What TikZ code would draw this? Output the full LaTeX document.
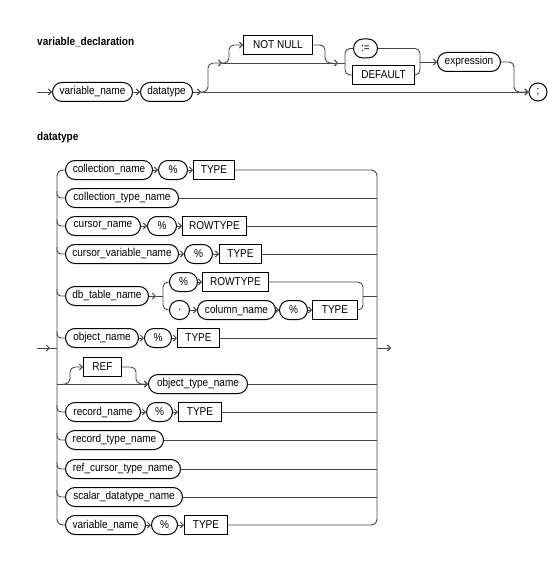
\documentclass[tikz,border=0pt]{standalone}
\usepackage{fontspec}
\setmainfont{Liberation Sans}[FakeStretch=0.88]
\usetikzlibrary{arrows.meta}
\newcommand\fsz{\fontsize{11.4}{13}\selectfont}
\begin{document}
\begin{tikzpicture}[x=1pt,y=-1pt,
  ln/.style={line width=0.9pt, draw=black!72},
  arr/.style={ln, -{Straight Barb[length=3pt,width=6pt,line width=0.9pt]}},
  nt/.style={draw=black, line width=1pt, rectangle, rounded corners=9.5pt, minimum height=19pt, inner sep=0pt, font=\fsz, anchor=west},
  kw/.style={draw=black, line width=1pt, rectangle, minimum height=19pt, inner sep=0pt, font=\fsz, anchor=west},
  ttl/.style={font=\fsz\bfseries, anchor=west, inner sep=0pt},
]
\useasboundingbox (0,0) rectangle (547,567);

% ---------------- variable_declaration ----------------
\node[ttl] (t1) at (37,42) {variable\_declaration};
\node[nt, minimum width=80pt] (vname) at (52,92) {variable\_name};
\node[nt, minimum width=52pt] (dtype) at (140,92) {datatype};
\node[kw, minimum width=69pt] (notnull) at (243,45) {NOT NULL};
\node[nt, minimum width=24pt] (assign) at (353,48.5) {:=};
\node[kw, minimum width=62pt] (default) at (352,75) {DEFAULT};
\node[nt, minimum width=63pt] (expr) at (437,62) {expression};
\node[draw=black, line width=1pt, circle, minimum size=18pt, inner sep=0pt, font=\fsz] (semi) at (538,92) {;};

\coordinate (start1) at (37,92);
\coordinate (a1) at (201,92);
\coordinate (a2) at (222,63);
\coordinate (a3) at (338,63);
\coordinate (bl) at (345,63);
\coordinate (br) at (420,62);

\draw[arr] (start1) -- (vname.west);
\draw[arr] (vname.east) -- (dtype.west);
\draw[arr] (dtype.east) -- (a1);
\draw[arr] (a1) -- (semi.west);
\draw[arr, rounded corners=5pt] (a1) -- (208,92) -- (208,63) -- (a2);
\draw[arr, rounded corners=5pt] (a2) -- (229,63) -- (229,45) -- (notnull.west);
\draw[arr] (a2) -- (a3);
\draw[ln] (a3) -- (bl);
\draw[ln, rounded corners=5pt] (notnull.east) -- (325,45) -- (325,63) -- (333,63);
\draw[ln, rounded corners=5pt] (assign.west) -- (345,48.5) -- (345,75) -- (default.west);
\draw[ln, rounded corners=5pt] (assign.east) -- (420,48.5) -- (420,75) -- (default.east);
\draw[arr] (br) -- (expr.west);
\draw[arr, rounded corners=5pt] (expr.east) -- (514,62) -- (514,92) -- (semi.west);

% ---------------- datatype ----------------
\node[ttl] (t2) at (37,138) {datatype};

% row 1
\node[nt, minimum width=87pt] (cname) at (65,170) {collection\_name};
\node[nt, minimum width=29pt] (pct1) at (158,170) {\%};
\node[kw, minimum width=41pt] (type1) at (193,170) {TYPE};
% row 2
\node[nt, minimum width=113pt] (ctname) at (65,198) {collection\_type\_name};
% row 3
\node[nt, minimum width=75pt] (cur) at (65,226) {cursor\_name};
\node[nt, minimum width=29pt] (pct3) at (147,226) {\%};
\node[kw, minimum width=64pt] (rowtype3) at (182,226) {ROWTYPE};
% row 4
\node[nt, minimum width=113pt] (cvn) at (65,254) {cursor\_variable\_name};
\node[nt, minimum width=28pt] (pct4) at (184,254) {\%};
\node[kw, minimum width=42pt] (type4) at (219,254) {TYPE};
% row 5
\node[nt, minimum width=83pt] (db) at (65,296) {db\_table\_name};
\node[nt, minimum width=28pt] (pct5a) at (169,282) {\%};
\node[kw, minimum width=66pt] (rowtype5) at (202,282) {ROWTYPE};
\node[nt, minimum width=20pt] (dot) at (169,310) {.};
\node[nt, minimum width=78pt] (colname) at (197,310) {column\_name};
\node[nt, minimum width=28pt] (pct5b) at (279,310) {\%};
\node[kw, minimum width=45pt] (type5) at (312,310) {TYPE};
% row 6
\node[nt, minimum width=73pt] (oname) at (65,338) {object\_name};
\node[nt, minimum width=27pt] (pct6) at (144,338) {\%};
\node[kw, minimum width=42pt] (type6) at (177,338) {TYPE};
% row 7
\node[kw, minimum width=38pt] (ref) at (83,367) {REF};
\node[nt, minimum width=99pt] (otname) at (148,384) {object\_type\_name};
% row 8
\node[nt, minimum width=75pt] (rname) at (65,412) {record\_name};
\node[nt, minimum width=26pt] (pct8) at (146,412) {\%};
\node[kw, minimum width=43pt] (type8) at (178,412) {TYPE};
% rows 9-11
\node[nt, minimum width=98pt] (rtname) at (65,440) {record\_type\_name};
\node[nt, minimum width=115pt] (rctname) at (65,469) {ref\_cursor\_type\_name};
\node[nt, minimum width=117pt] (sdname) at (65,497) {scalar\_datatype\_name};
% row 12
\node[nt, minimum width=80pt] (vname2) at (65,525) {variable\_name};
\node[nt, minimum width=26pt] (pct12) at (151,525) {\%};
\node[kw, minimum width=43pt] (type12) at (184,525) {TYPE};

\coordinate (L) at (57,0);
\coordinate (R) at (377,0);
\coordinate (in) at (37,348);
\coordinate (inA) at (50,348);
\coordinate (inB) at (57,348);
\coordinate (outA) at (377,348);
\coordinate (out) at (391,348);

\draw[arr] (in) -- (inA);
\draw[ln] (inA) -- (inB);
\draw[arr] (outA) -- (out);

% outer brackets
\draw[ln, rounded corners=6pt] (cname.west) -- (cname.west -| L) -- (vname2.west -| L) -- (vname2.west);
\draw[ln, rounded corners=6pt] (type1.east) -- (type1.east -| R) -- (type12.east -| R) -- (type12.east);

% row entries from left bracket
\foreach \n in {ctname,cur,cvn,db,oname,rname,rtname,rctname,sdname}{
  \draw[ln, rounded corners=4pt] (\n.west -| L) ++(0,-7) -- ++(0,7) -- (\n.west);
}
% row exits to right bracket
\foreach \n in {ctname,rowtype3,type4,type6,otname,type8,rtname,rctname,sdname}{
  \draw[ln] (\n.east) -- (\n.east -| R);
}

% arrows within rows
\draw[arr] (cname.east) -- (pct1.west);
\draw[arr] (pct1.east) -- (type1.west);
\draw[arr] (cur.east) -- (pct3.west);
\draw[arr] (pct3.east) -- (rowtype3.west);
\draw[arr] (cvn.east) -- (pct4.west);
\draw[arr] (pct4.east) -- (type4.west);
\draw[arr] (oname.east) -- (pct6.west);
\draw[arr] (pct6.east) -- (type6.west);
\draw[arr] (rname.east) -- (pct8.west);
\draw[arr] (pct8.east) -- (type8.west);
\draw[arr] (vname2.east) -- (pct12.west);
\draw[arr] (pct12.east) -- (type12.west);

% db_table_name choice
\coordinate (dbA) at (156,296);
\coordinate (dbB) at (163,296);
\coordinate (dbC) at (363,296);
\draw[arr] (db.east) -- (dbA);
\draw[ln] (dbA) -- (dbB);
\draw[ln, rounded corners=5pt] (pct5a.west) -- (163,282) -- (163,310) -- (dot.west);
\draw[arr] (pct5a.east) -- (rowtype5.west);
\draw[arr] (dot.east) -- (colname.west);
\draw[arr] (colname.east) -- (pct5b.west);
\draw[arr] (pct5b.east) -- (type5.west);
\draw[ln, rounded corners=5pt] (rowtype5.east) -- (363,282) -- (363,310) -- (type5.east);
\draw[ln] (dbC) -- (dbC -| R);

% REF optional
\draw[arr] (otname.west -| L) -- (otname.west);
\draw[arr, rounded corners=5pt] (63,384) -- (70,384) -- (70,367) -- (ref.west);
\draw[arr, rounded corners=5pt] (ref.east) -- (136,367) -- (136,384) -- (otname.west);
\end{tikzpicture}
\end{document}
